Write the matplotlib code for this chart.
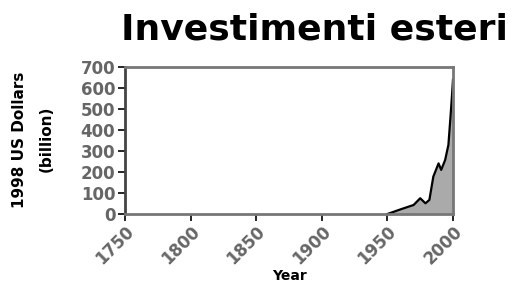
import numpy as np
import matplotlib.pyplot as plt

# dati
years = [1950, 1960, 1970, 1975, 1979, 1982, 1985, 1989, 1991, 1994, 1996.5, 1998, 1999, 2000]
invest = [0, 22, 43, 75, 51, 67, 178, 241, 210, 257, 329, 455, 543, 640]
x_ticks = [1750, 1800, 1850, 1900, 1950, 2000]
y_ticks = [0, 100, 200, 300, 400, 500, 600, 700]

fig = plt.figure(figsize=(5.14, 2.87), dpi=100)
ax = fig.add_axes([125 / 514, 1 - 214 / 287, 328 / 514, 147 / 287])

ax.fill_between(years, invest, color='#aaaaaa', lw=0)
ax.plot(years, invest, color='black', lw=1.6)

ax.set_xlim(1750, 2000)
ax.set_ylim(0, 700)
ax.set_xticks(x_ticks)
ax.set_yticks(y_ticks)
ax.set_xticklabels([str(x) for x in x_ticks], rotation=45, ha='right',
                   rotation_mode='anchor', fontsize=12, fontweight='bold', color='#666666')
ax.set_yticklabels([str(y) for y in y_ticks], fontsize=12, fontweight='bold', color='#666666')
ax.tick_params(axis='both', length=5, width=1.2, color='black')
ax.tick_params(axis='y', pad=2)
ax.tick_params(axis='x', pad=1)

for side in ['top', 'right', 'bottom']:
    ax.spines[side].set_color('#777777')
    ax.spines[side].set_linewidth(2)
ax.spines['left'].set_color('#444444')
ax.spines['left'].set_linewidth(2)

ax.set_xlabel('Year', fontsize=10, fontweight='bold', labelpad=1)

# etichetta asse y su due righe
fig.text(20 / 514, 1 - 140 / 287, '1998 US Dollars', rotation=90, ha='center', va='center',
         fontsize=11, fontweight='bold')
fig.text(46 / 514, 1 - 139 / 287, '(billion)', rotation=90, ha='center', va='center',
         fontsize=11, fontweight='bold')

fig.text(314 / 514, 1 - 40 / 287, 'Investimenti esteri', ha='center', va='baseline',
         fontsize=26, fontweight='bold')

fig.savefig('out.png', dpi=100)
